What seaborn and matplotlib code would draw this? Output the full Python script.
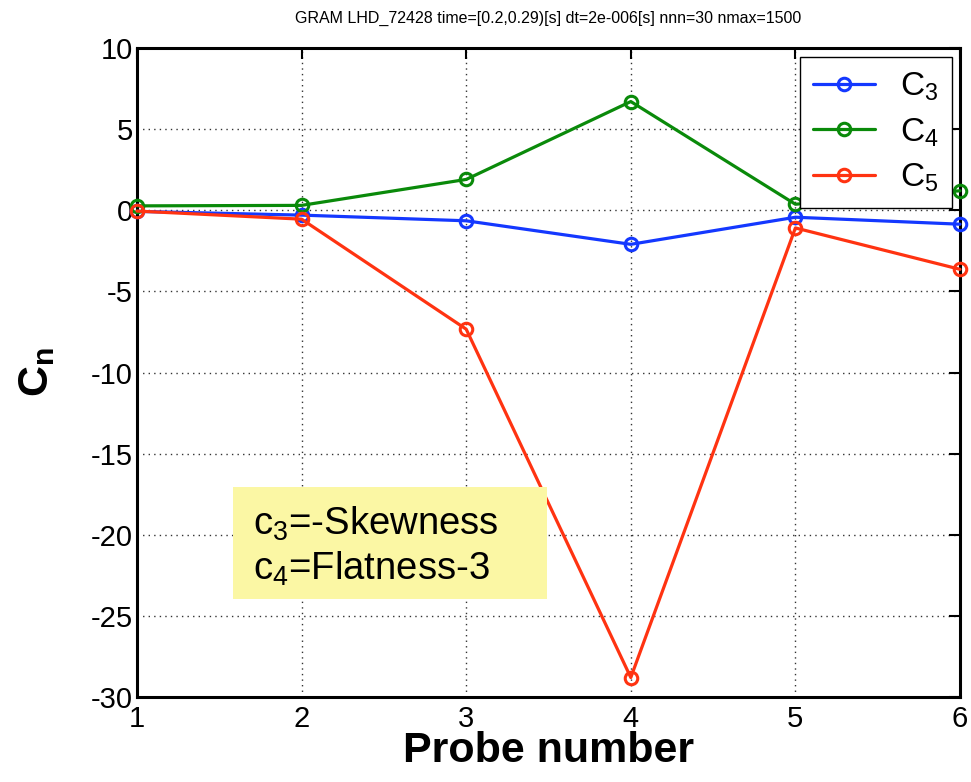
import matplotlib
matplotlib.use("Agg")
import matplotlib.pyplot as plt
import matplotlib.patches as mpatches
import seaborn as sns
import pandas as pd

probes = [1, 2, 3, 4, 5, 6]
c3 = [-0.07, -0.3, -0.65, -2.1, -0.43, -0.86]
c4 = [0.27, 0.3, 1.9, 6.7, 0.37, 1.2]
c5 = [-0.05, -0.55, -7.33, -28.8, -1.09, -3.64]
series_labels = ["$\\mathregular{C_3}$", "$\\mathregular{C_4}$", "$\\mathregular{C_5}$"]
colors = ["#1438ff", "#0a8a0a", "#ff3311"]
title = "GRAM LHD_72428 time=[0.2,0.29)[s] dt=2e-006[s] nnn=30 nmax=1500"
xticks = [1, 2, 3, 4, 5, 6]
yticks = [10, 5, 0, -5, -10, -15, -20, -25, -30]

sns.set_style("white")
plt.rcParams['font.family'] = ['Liberation Sans', 'DejaVu Sans']
plt.rcParams['mathtext.fontset'] = 'custom'
plt.rcParams['mathtext.rm'] = 'Liberation Sans'
plt.rcParams['mathtext.bf'] = 'Liberation Sans:bold'
for k in ['text.color', 'axes.labelcolor', 'xtick.color', 'ytick.color']:
    plt.rcParams[k] = 'black'

fig = plt.figure(figsize=(9.71, 7.82), dpi=100)
ax = fig.add_axes([137/971, 1-697/782, (960-137)/971, (697-48)/782])

for vals, lab, col in zip([c3, c4, c5], series_labels, colors):
    df = pd.DataFrame({"probe": probes, "val": vals})
    sns.lineplot(data=df, x="probe", y="val", ax=ax, color=col, label=lab,
                 marker="o", markersize=9, markerfacecolor="none",
                 markeredgecolor=col, markeredgewidth=2.2, linewidth=2.3,
                 clip_on=False, zorder=3)

ax.set_xlim(1, 6)
ax.set_ylim(-30, 10)
ax.set_xticks(xticks)
ax.set_yticks(yticks)
ax.set_yticklabels([str(t) for t in yticks])
ax.tick_params(direction="in", length=8, width=1.5, labelsize=21, top=True, right=True)
ax.tick_params(axis="y", pad=3)
ax.tick_params(axis="x", pad=6)
for s in ax.spines.values():
    s.set_linewidth(2.2)
    s.set_color("black")
ax.grid(True, linestyle=(0, (1, 3)), color="#333333", linewidth=1)

ax.set_xlabel("Probe number", fontsize=31, fontweight="bold", labelpad=-2)
ax.set_ylabel("$\\mathbf{C_n}$", fontsize=31, fontweight="bold", labelpad=24)
fig.text(548/971, 1-18/782, title, ha="center", va="center", fontsize=11.5)

leg = ax.legend(loc="upper right", bbox_to_anchor=(0.99, 0.986), borderaxespad=0,
                fontsize=24, frameon=True, fancybox=False, edgecolor="black",
                framealpha=1, handlelength=1.85, handletextpad=0.75,
                borderpad=0.4, labelspacing=0.4)
leg.get_frame().set_linewidth(1)

ax.add_patch(mpatches.Rectangle((0.1166, 0.151), 0.382, 0.1726,
                                transform=ax.transAxes, facecolor="#fbf7a4",
                                edgecolor="none", zorder=4))
ax.text(0.141, 0.232,
        "$\\mathregular{c_3}$=-Skewness\n$\\mathregular{c_4}$=Flatness-3",
        transform=ax.transAxes, fontsize=27.5, va="center", ha="left",
        linespacing=1.2, zorder=5)

fig.savefig("out.png", dpi=100)
